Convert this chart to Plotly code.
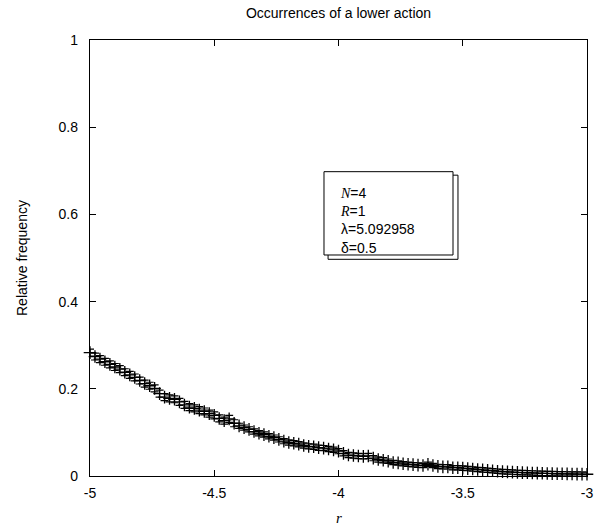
import plotly.graph_objects as go

# r grid (step 0.02 from -5 to -3)
r = [round(-5 + 0.02 * i, 2) for i in range(101)]

freq = [
    0.283, 0.274, 0.268, 0.262, 0.256, 0.250, 0.245, 0.238, 0.232, 0.226,
    0.219, 0.212, 0.207, 0.201, 0.189, 0.181, 0.178, 0.176, 0.170, 0.163,
    0.158, 0.155, 0.151, 0.148, 0.143, 0.139, 0.132, 0.127, 0.131, 0.121,
    0.115, 0.111, 0.107, 0.102, 0.098, 0.095, 0.091, 0.088, 0.084, 0.080,
    0.077, 0.075, 0.073, 0.070, 0.068, 0.067, 0.065, 0.064, 0.062, 0.060,
    0.057, 0.052, 0.048, 0.047, 0.046, 0.045, 0.046, 0.041, 0.038, 0.036,
    0.034, 0.031, 0.030, 0.028, 0.027, 0.026, 0.025, 0.024, 0.027, 0.024,
    0.022, 0.021, 0.021, 0.019, 0.019, 0.018, 0.017, 0.016, 0.015, 0.014,
    0.013, 0.012, 0.011, 0.010, 0.0095, 0.009, 0.0082, 0.0078, 0.0075, 0.0070,
    0.0065, 0.0062, 0.0058, 0.0055, 0.0052, 0.0050, 0.0048, 0.0046, 0.0044, 0.0042,
    0.0040,
]

err = [0.008] * 30 + [0.006] * 30 + [0.005] * 41

x_ticks = [-5, -4.5, -4, -3.5, -3]
x_tick_text = ["-5", "-4.5", "-4", "-3.5", "-3"]
y_ticks = [0, 0.2, 0.4, 0.6, 0.8, 1]
y_tick_text = ["0", "0.2", "0.4", "0.6", "0.8", "1"]

SERIF = "Liberation Serif, Times New Roman, serif"
info_lines = [
    f"<span style='font-family:{SERIF}'><i>N</i></span>=4",
    f"<span style='font-family:{SERIF}'><i>R</i></span>=1",
    "λ=5.092958",
    "δ=0.5",
]

FONT = "Liberation Sans, Arial, Helvetica, sans-serif"

fig = go.Figure()
fig.add_trace(go.Scatter(
    x=r, y=freq, mode="markers",
    marker=dict(symbol="cross-thin", size=9, line=dict(width=1.3, color="black"), color="black"),
    error_y=dict(type="data", array=err, visible=True, thickness=1.2, width=4, color="black"),
    showlegend=False, cliponaxis=False,
))

axis_common = dict(
    showline=True, linecolor="black", linewidth=1.3, mirror="ticks",
    ticks="inside", ticklen=6, tickcolor="black", tickwidth=1,
    showgrid=False, zeroline=False, automargin=False,
    tickfont=dict(family=FONT, size=14, color="black"),
)

fig.update_layout(
    width=596, height=530,
    margin=dict(l=90, r=9, t=40, b=54),
    paper_bgcolor="white", plot_bgcolor="white",
    font=dict(family=FONT, size=14, color="black"),
    title=dict(text="Occurrences of a lower action", x=0.568, xanchor="center",
               y=0.975, yanchor="middle", font=dict(family=FONT, size=14, color="black")),
    xaxis=dict(range=[-5, -3], tickvals=x_ticks, ticktext=x_tick_text,
               ticklabelstandoff=4, **axis_common),
    yaxis=dict(range=[0, 1], tickvals=y_ticks, ticktext=y_tick_text,
               ticklabelstandoff=8, **axis_common),
)

fig.add_annotation(xref="paper", yref="paper", x=-0.1368, y=0.5, xanchor="center", yanchor="middle",
                   text="Relative frequency", textangle=-90, showarrow=False,
                   font=dict(family=FONT, size=14, color="black"))
fig.add_annotation(xref="paper", yref="paper", x=0.5, y=-0.0963, xanchor="center", yanchor="middle",
                   text=f"<span style='font-family:{SERIF}'><i>r</i></span>", showarrow=False,
                   font=dict(family=FONT, size=15, color="black"))

# shadow box then main box
fig.add_shape(type="rect", xref="paper", yref="paper", x0=0.479, x1=0.7404, y0=0.497, y1=0.690,
              line=dict(color="black", width=1), fillcolor="white", layer="above")
fig.add_shape(type="rect", xref="paper", yref="paper", x0=0.4708, x1=0.7304, y0=0.5069, y1=0.698,
              line=dict(color="black", width=1), fillcolor="white", layer="above")

fig.add_annotation(
    xref="paper", yref="paper", x=0.499, y=0.672, xanchor="left", yanchor="top",
    text="<br>".join(info_lines), showarrow=False, align="left",
    font=dict(family=FONT, size=14, color="black"),
)

fig.write_html("out.html")
